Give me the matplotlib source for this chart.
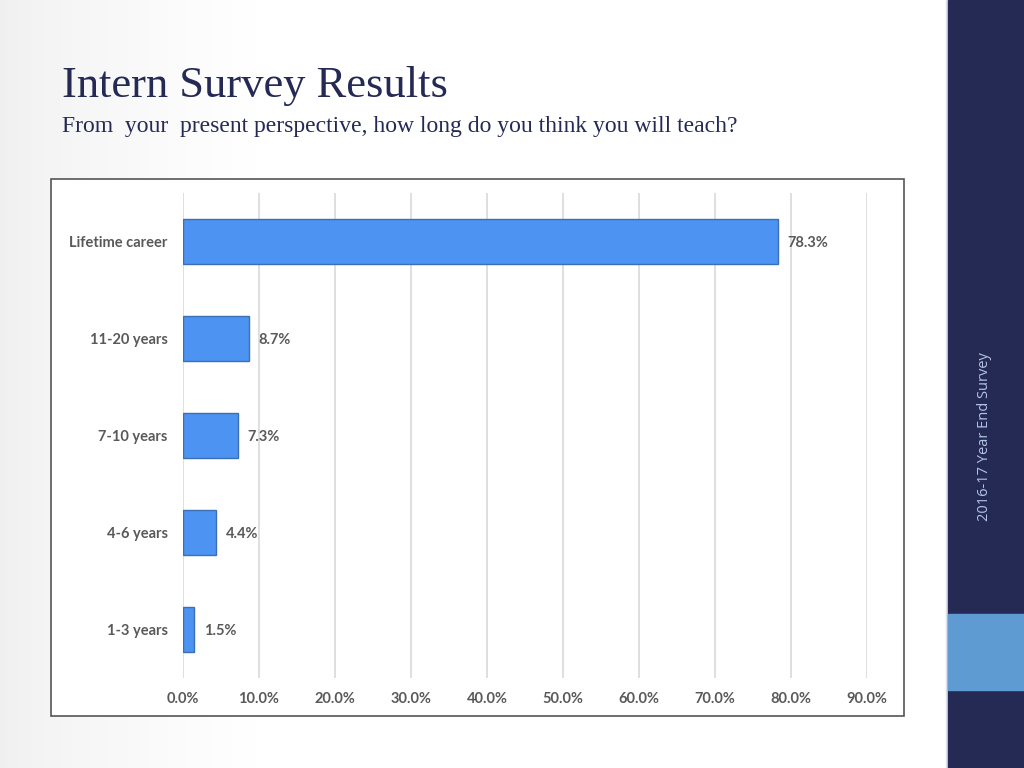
import numpy as np
import matplotlib
matplotlib.use('Agg')
import matplotlib.pyplot as plt
from matplotlib.patches import Rectangle

categories = ['1-3 years', '4-6 years', '7-10 years', '11-20 years', 'Lifetime career']
values = [1.5, 4.4, 7.3, 8.7, 78.3]
ticks = [0, 10, 20, 30, 40, 50, 60, 70, 80, 90]

navy = '#252a55'
gray = '#595959'

fig = plt.figure(figsize=(10.24, 7.68), dpi=100)

# slide background, slight grey toward the left edge
bg = fig.add_axes([0, 0, 1, 1], zorder=-10)
grad = np.linspace(0.0, 1.0, 256)
grad = 0.94 + 0.06 * np.clip(grad * 4, 0, 1) ** 0.7
img = np.dstack([grad, grad, grad]).clip(0, 1)
bg.imshow(np.repeat(img, 2, axis=0), extent=[0, 1, 0, 1], aspect='auto')
bg.set_xlim(0, 1)
bg.set_ylim(0, 1)
bg.axis('off')

# right side band
bg.add_patch(Rectangle((946 / 1024, 0), 2 / 1024, 1, color='#dcdfe8', zorder=2))
bg.add_patch(Rectangle((948 / 1024, 0), 76 / 1024, 1, color=navy, zorder=2))
bg.add_patch(Rectangle((948 / 1024, 1 - 690 / 768), 76 / 1024, 76 / 768, color='#5f9bd3', zorder=3))
bg.text(984 / 1024, 1 - 437 / 768, '2016-17 Year End Survey', rotation=90, ha='center', va='center',
        color='#b4c4e4', fontsize=10.5, family='Open Sans')

# chart frame
bg.add_patch(Rectangle((51 / 1024, 1 - 716 / 768), 853 / 1024, 537 / 768,
                       facecolor='white', edgecolor='#555555', lw=1.2, zorder=4))

# titles
fig.text(62 / 1024, 1 - 97 / 768, 'Intern Survey Results', fontsize=32, color=navy,
         family='Liberation Serif', va='baseline')
fig.text(62 / 1024, 1 - 132 / 768, 'From  your  present perspective, how long do you think you will teach?',
         fontsize=17, color=navy, family='Liberation Serif', va='baseline')

ax = fig.add_axes([183 / 1024, 1 - 678 / 768, 684 / 1024, 485 / 768])
ax.set_facecolor('none')
y = np.arange(len(categories))
ax.barh(y, values, height=0.46, color='#4d94f2', edgecolor='#3a6fb5', linewidth=1.0, zorder=3)
for yi, v in zip(y, values):
    ax.text(v + 1.2, yi - 0.02, f'{v:.1f}%', va='center', ha='left', fontsize=10.5,
            fontweight='bold', color=gray, family='Lato')

ax.set_xlim(0, 90)
ax.set_ylim(-0.5, 4.5)
ax.set_xticks(ticks)
ax.set_xticklabels([f'{t:.1f}%' for t in ticks])
ax.set_yticks(y)
ax.set_yticklabels(categories)
for lbl in ax.get_xticklabels() + ax.get_yticklabels():
    lbl.set_fontweight('bold')
    lbl.set_color(gray)
    lbl.set_fontsize(10.5)
    lbl.set_family('Lato')
ax.tick_params(length=0)
ax.tick_params(axis='x', pad=10)
ax.tick_params(axis='y', pad=11)
ax.grid(axis='x', color='#d9d9d9', lw=1.2, zorder=0)
for s in ax.spines.values():
    s.set_visible(False)

fig.savefig('out.png', dpi=100)
